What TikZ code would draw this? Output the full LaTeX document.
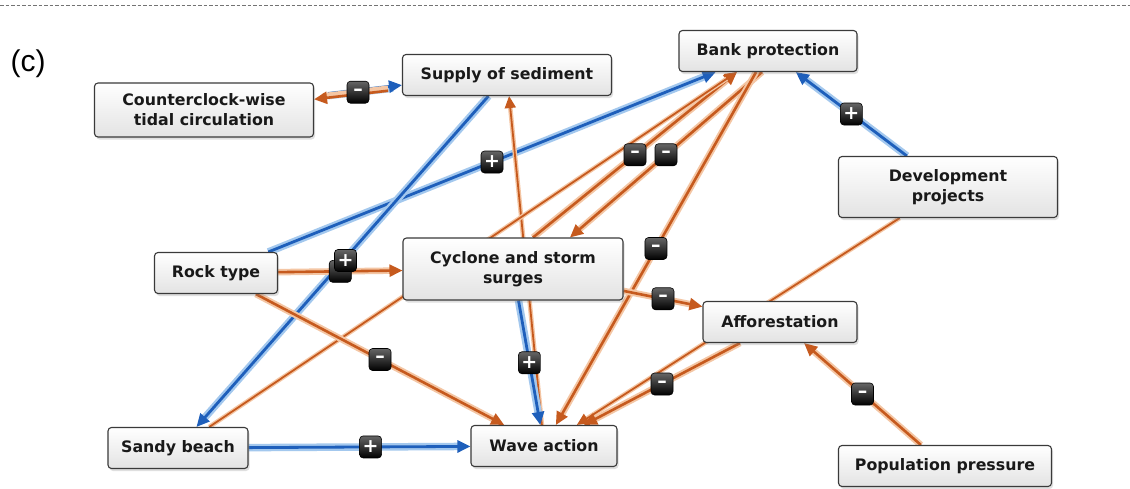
\documentclass[tikz,border=0pt]{standalone}
\usepackage{fontspec}
\setmainfont{DejaVu Sans}
\newfontfamily\tagfont{Liberation Sans}
\usetikzlibrary{arrows.meta,shadows}

\definecolor{linkblue}{HTML}{1E5FBB}
\definecolor{haloblue}{HTML}{A3C8EE}
\definecolor{linkorange}{HTML}{C65A1E}
\definecolor{haloorange}{HTML}{F4C6A4}
\definecolor{boxline}{HTML}{3A3A3A}

\pgfdeclarelayer{paper}
\pgfdeclarelayer{links}
\pgfdeclarelayer{signs}
\pgfsetlayers{paper,links,signs,main}

\tikzset{
  factor/.style={draw=boxline, line width=1.1pt, rounded corners=3.5pt,
    top color=white, bottom color=black!11,
    drop shadow={shadow xshift=1.5pt, shadow yshift=-2.5pt, opacity=0.25},
    font=\bfseries\fontsize{15.8}{20}\selectfont, text=black!90,
    align=center, inner sep=0pt},
  pos link/.style={draw=linkblue, line width=2.8pt,
    -{Triangle[length=13pt,width=12pt]},
    preaction={draw=haloblue, line width=7.5pt, arrows=-, shorten >=9pt}},
  neg link/.style={draw=linkorange, line width=2.6pt,
    -{Triangle[length=13pt,width=12pt]},
    preaction={draw=haloorange, line width=6.5pt, arrows=-, shorten >=9pt}},
  thin neg/.style={draw=linkorange, line width=1.8pt,
    -{Triangle[length=12pt,width=11pt]},
    preaction={draw=haloorange, line width=4.5pt, arrows=-, shorten >=9pt}},
  sign/.style={draw=black, line width=0.6pt, rounded corners=3.5pt,
    top color=black!60, bottom color=black, minimum size=22pt, inner sep=0pt,
    text=white, font=\bfseries\fontsize{19}{19}\selectfont}
}

\begin{document}
\begin{tikzpicture}[x=1pt,y=-1pt]
  % page frame
  \begin{pgfonlayer}{paper}
    \fill[white] (0,0) rectangle (1130,488);
  \end{pgfonlayer}
  \useasboundingbox (0,0) rectangle (1130,488);
  \draw[black!55, line width=0.8pt, dash pattern=on 3.5pt off 2pt] (0,5) -- (1130,5);

  \node[font=\tagfont\fontsize{30}{30}\selectfont] (tag) at (28,64) {(c)};

  % factors
  \node[factor, minimum width=219pt, minimum height=54pt] (cc)    at (204,110) {Counterclock-wise\\tidal circulation};
  \node[factor, minimum width=209pt, minimum height=41pt] (sup)   at (507,75)  {Supply of sediment};
  \node[factor, minimum width=178pt, minimum height=41pt] (bank)  at (768,51)  {Bank protection};
  \node[factor, minimum width=219pt, minimum height=61pt] (dev)   at (948,187) {Development\\projects};
  \node[factor, minimum width=123pt, minimum height=41pt] (rock)  at (216,273) {Rock type};
  \node[factor, minimum width=220pt, minimum height=62pt] (cyc)   at (513,269) {Cyclone and storm\\surges};
  \node[factor, minimum width=154pt, minimum height=41pt] (aff)   at (780,322) {Afforestation};
  \node[factor, minimum width=140pt, minimum height=41pt] (sandy) at (178,448) {Sandy beach};
  \node[factor, minimum width=146pt, minimum height=41pt] (wave)  at (544,446) {Wave action};
  \node[factor, minimum width=213pt, minimum height=41pt] (pop)   at (945,466) {Population pressure};

  % causal links
  \begin{pgfonlayer}{links}
    \draw[pos link, shorten <=14pt, transform canvas={yshift=2pt}] (cc) -- (sup);
    \draw[neg link, shorten <=14pt, transform canvas={yshift=-2pt}] (sup) -- (cc);
    \draw[pos link] (rock) -- (bank);
    \draw[pos link] (sup) -- (sandy);
    \draw[neg link] (rock) -- (cyc);
    \draw[thin neg] (wave) -- (sup);
    \draw[pos link] (cyc) -- (wave);
    \draw[neg link] ([xshift=20pt]cyc.north) -- ([xshift=-31pt]bank.south);
    \draw[neg link] ([xshift=-6pt]bank.south) -- ([xshift=57pt]cyc.north);
    \draw[neg link] (bank) -- (wave);
    \draw[thin neg] (sandy) -- (bank);
    \draw[pos link] (dev) -- (bank);
    \draw[thin neg] (dev) -- (wave);
    \draw[neg link] (aff) -- (wave);
    \draw[neg link] (cyc) -- (aff);
    \draw[neg link] (pop) -- (aff);
    \draw[neg link] (rock) -- (wave);
    \draw[pos link] (sandy) -- (wave);
  \end{pgfonlayer}

  % link signs
  \begin{pgfonlayer}{signs}
    \path (cc) -- (sup) node[sign, pos=.5] {–};
    \path (rock) -- (cyc) node[sign, pos=.5] {–};
    \path (sup) -- (sandy) node[sign, pos=.5, xshift=3pt, yshift=1pt] {+};
    \path (rock) -- (bank) node[sign, pos=.5] {+};
    \path ([xshift=20pt]cyc.north) -- ([xshift=-31pt]bank.south) node[sign, pos=.5] {–};
    \path ([xshift=-6pt]bank.south) -- ([xshift=57pt]cyc.north) node[sign, pos=.5] {–};
    \path (dev) -- (bank) node[sign, pos=.5] {+};
    \path (bank) -- (wave) node[sign, pos=.5] {–};
    \path (cyc) -- (aff) node[sign, pos=.5] {–};
    \path (cyc) -- (wave) node[sign, pos=.5] {+};
    \path (rock) -- (wave) node[sign, pos=.5] {–};
    \path (aff) -- (wave) node[sign, pos=.5] {–};
    \path (pop) -- (aff) node[sign, pos=.5] {–};
    \path (sandy) -- (wave) node[sign, pos=.55] {+};
  \end{pgfonlayer}
\end{tikzpicture}
\end{document}
